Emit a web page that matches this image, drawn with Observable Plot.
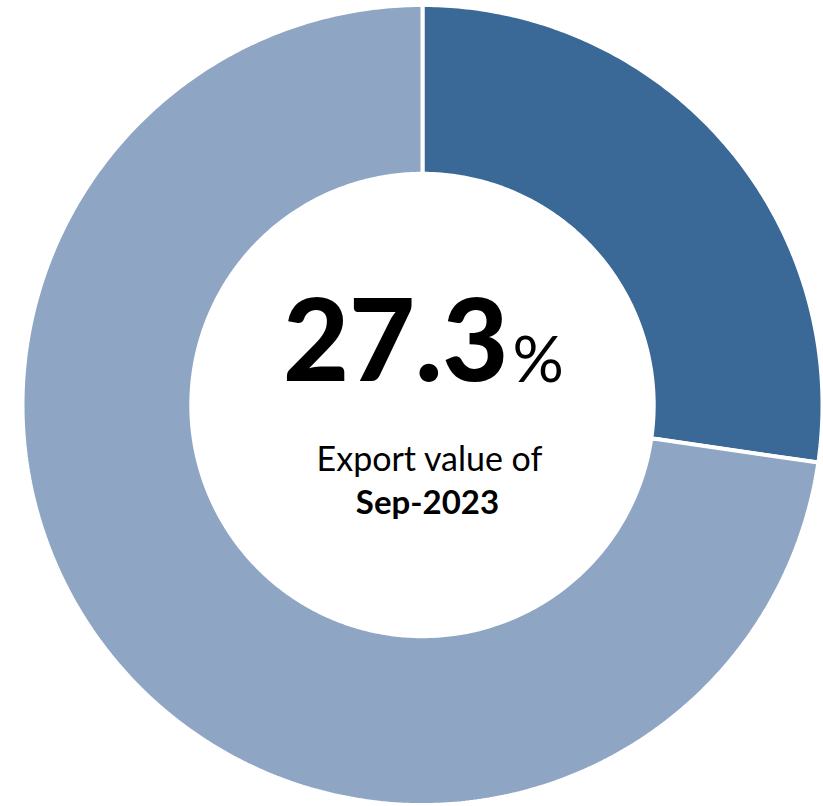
<!DOCTYPE html>
<html>
<head>
<meta charset="utf-8">
<script src="https://cdn.jsdelivr.net/npm/d3@7"></script>
<script src="https://cdn.jsdelivr.net/npm/@observablehq/plot@0.6"></script>
<style>
  html, body { margin: 0; padding: 0; background: #fff; }
  #chart svg { display: block; }
</style>
</head>
<body>
<div id="chart"></div>
<script>
// ---- data ----
const categories = ["Share of export value", "Remainder"];
const shares = [27.3, 72.7];
const colors = ["#3B6997", "#8FA5C4"];
const bigValue = "27.3";
const bigUnit = "%";
const labelLine1 = "Export value of";
const labelLine2 = "Sep-2023";

// ---- geometry (donut in unit coordinates) ----
const innerRatio = 0.578;
const total = d3.sum(shares);
const pts = [];
let start = 0;
categories.forEach((c, i) => {
  const a0 = (start / total) * 2 * Math.PI;
  const a1 = ((start + shares[i]) / total) * 2 * Math.PI;
  start += shares[i];
  const n = Math.max(8, Math.ceil((a1 - a0) / 0.01));
  for (let k = 0; k <= n; k++) {
    const a = a0 + (a1 - a0) * k / n;
    pts.push({cat: c, x: Math.sin(a), y: Math.cos(a)});
  }
  for (let k = n; k >= 0; k--) {
    const a = a0 + (a1 - a0) * k / n;
    pts.push({cat: c, x: innerRatio * Math.sin(a), y: innerRatio * Math.cos(a)});
  }
  pts.push({cat: c, x: Math.sin(a0), y: Math.cos(a0)});
});

const font = "Lato, 'Open Sans', sans-serif";

const chart = Plot.plot({
  width: 823,
  height: 806,
  margin: 0,
  x: {domain: [-1, 1], range: [22, 822], axis: null},
  y: {domain: [-1, 1], range: [804.5, 4.5], axis: null},
  color: {domain: categories, range: colors},
  style: {fontFamily: font, background: "#fff"},
  marks: [
    Plot.line(pts, {x: "x", y: "y", z: "cat", fill: "cat", stroke: "#fff", strokeWidth: 4, curve: "linear", strokeLinejoin: "miter"}),
    Plot.text([bigValue], {x: () => 0, y: () => 0, text: d => d, textAnchor: "end", dx: 86, dy: -60, fontSize: 114, fontWeight: 900, fill: "#000"}),
    Plot.text([bigUnit], {x: () => 0, y: () => 0, text: d => d, textAnchor: "start", dx: 90, dy: -43, fontSize: 64, fill: "#000"}),
    Plot.text([labelLine1], {x: () => 0, y: () => 0, text: d => d, dx: 7, dy: 55, fontSize: 34, fill: "#000"}),
    Plot.text([labelLine2], {x: () => 0, y: () => 0, text: d => d, dx: 5, dy: 98, fontSize: 33, fontWeight: "bold", fill: "#000"})
  ]
});
document.getElementById("chart").appendChild(chart);
</script>
</body>
</html>
